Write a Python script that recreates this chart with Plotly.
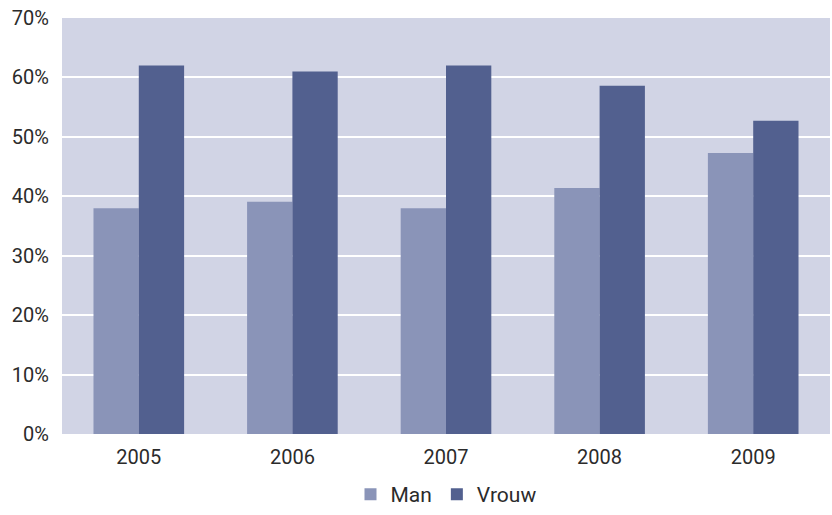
import plotly.graph_objects as go

years = ["2005", "2006", "2007", "2008", "2009"]
man = [38.0, 39.1, 38.0, 41.4, 47.3]
vrouw = [62.0, 61.0, 62.0, 58.6, 52.7]
series_names = ["Man", "Vrouw"]
colors = ["#8a94b8", "#52608f"]

fig = go.Figure()
for name, vals, col in zip(series_names, [man, vrouw], colors):
    fig.add_trace(go.Bar(x=years, y=[v / 100 for v in vals], name=name,
                         marker=dict(color=col, line=dict(width=0))))

font_fam = "Roboto, Arial, sans-serif"
fig.update_layout(
    width=832, height=515,
    margin=dict(l=62, r=2, t=18, b=81, autoexpand=False),
    paper_bgcolor="white", plot_bgcolor="#d1d4e5",
    barmode="group", bargap=0.41, bargroupgap=0,
    font=dict(family=font_fam, size=20, color="#2b2b2b"),
    xaxis=dict(showgrid=False, ticks="", showline=False, tickfont=dict(size=20),
               automargin=False, ticklabelstandoff=9),
    yaxis=dict(range=[0, 0.7], dtick=0.1, tickformat=".0%", showgrid=True,
               gridcolor="white", gridwidth=2, zeroline=False, ticks="",
               ticklabelstandoff=12, tickfont=dict(size=20), automargin=False),
    legend=dict(orientation="h", x=0.5, xanchor="center", yref="container",
                y=-0.015, yanchor="bottom",
                font=dict(size=21), itemwidth=30, traceorder="normal"),
    showlegend=True,
)
fig.write_html("out.html", config={"displayModeBar": False},
               post_script="document.body.style.margin='0';document.body.style.overflow='hidden';")
